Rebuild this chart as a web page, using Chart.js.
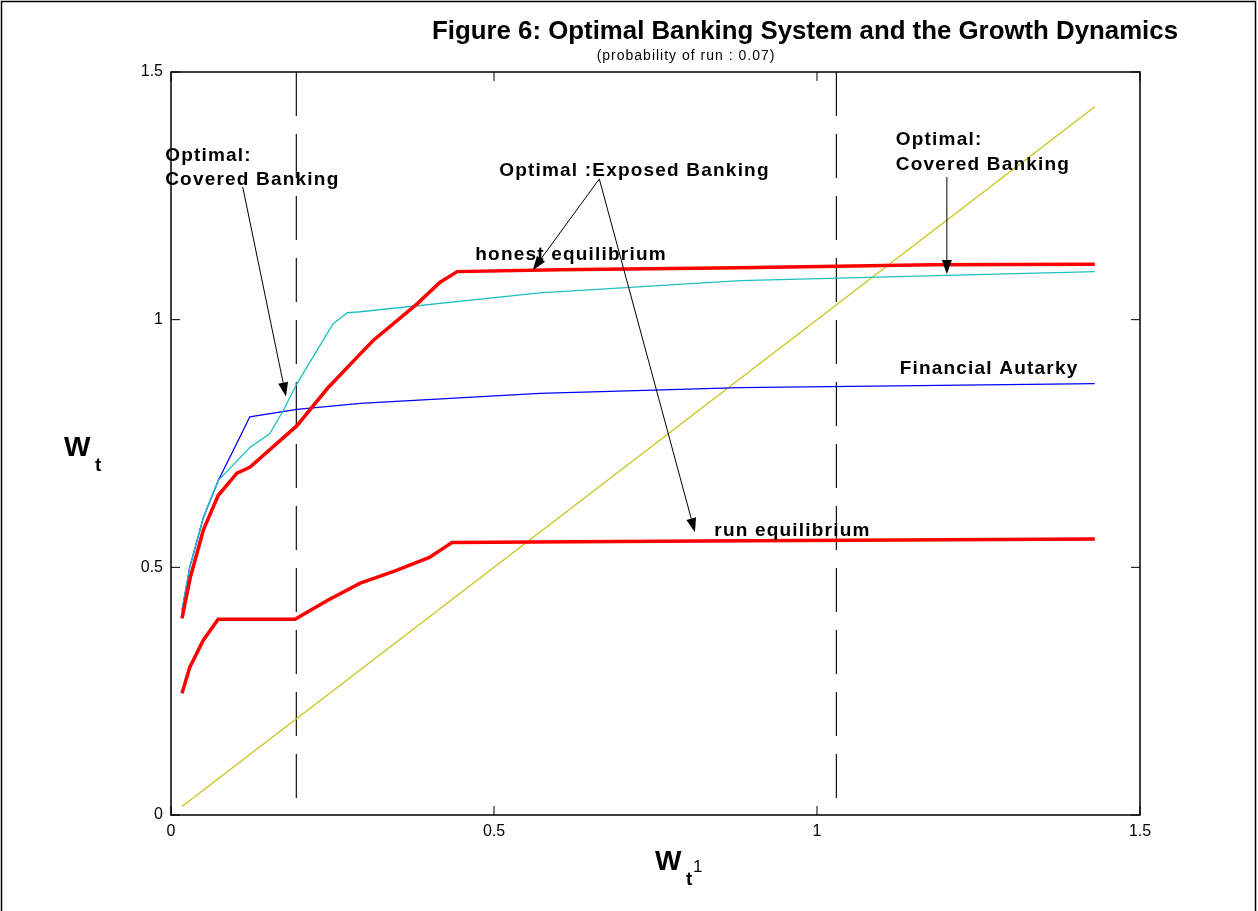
<!DOCTYPE html>
<html>
<head>
<meta charset="utf-8">
<script src="https://cdn.jsdelivr.net/npm/chart.js@4.4.1/dist/chart.umd.min.js"></script>
<style>
  html, body { margin: 0; padding: 0; background: #fff; }
  #wrap { width: 1258px; height: 911px; }
</style>
</head>
<body>
<div id="wrap"><canvas id="chart" width="1258" height="911"></canvas></div>
<script>
// values
const tickValues = [0, 0.5, 1, 1.5];
const tickLabels = ['0', '0.5', '1', '1.5'];

const honestX = [0.017, 0.03, 0.05, 0.073, 0.102, 0.122, 0.195, 0.242, 0.293, 0.313, 0.381, 0.416, 0.443, 0.60, 0.88, 1.18, 1.43];
const honestY = [0.397, 0.48, 0.575, 0.645, 0.69, 0.702, 0.786, 0.861, 0.931, 0.958, 1.032, 1.075, 1.097, 1.101, 1.105, 1.111, 1.112];

const runX = [0.017, 0.029, 0.05, 0.073, 0.192, 0.242, 0.293, 0.345, 0.40, 0.435, 0.824, 1.43];
const runY = [0.246, 0.298, 0.353, 0.395, 0.395, 0.433, 0.468, 0.492, 0.52, 0.55, 0.553, 0.557];

const autarkyX = [0.017, 0.029, 0.05, 0.073, 0.104, 0.122, 0.195, 0.293, 0.571, 0.881, 1.43];
const autarkyY = [0.413, 0.50, 0.60, 0.675, 0.756, 0.804, 0.819, 0.831, 0.851, 0.863, 0.871];

const coveredX = [0.017, 0.029, 0.05, 0.073, 0.122, 0.153, 0.174, 0.195, 0.226, 0.251, 0.273, 0.293, 0.571, 0.881, 1.43];
const coveredY = [0.413, 0.50, 0.60, 0.675, 0.742, 0.77, 0.817, 0.871, 0.938, 0.992, 1.014, 1.016, 1.054, 1.079, 1.097];

const diagonalX = [0.017, 1.43];
const diagonalY = [0.017, 1.43];

const cutoffLeft = 0.194;
const cutoffRight = 1.03;
const cutoffY = [1.5, 0];

const notes = [
  { text: 'Optimal:', x: -0.009, y: 1.321 },
  { text: 'Covered Banking', x: -0.009, y: 1.272 },
  { text: 'Optimal :Exposed Banking', x: 0.508, y: 1.290 },
  { text: 'honest equilibrium', x: 0.471, y: 1.12 },
  { text: 'run equilibrium', x: 0.841, y: 0.563 },
  { text: 'Financial Autarky', x: 1.128, y: 0.89 },
  { text: 'Optimal:', x: 1.122, y: 1.353 },
  { text: 'Covered Banking', x: 1.122, y: 1.302 }
];

const arrows = [
  { from: [0.111, 1.268], to: [0.178, 0.845] },
  { from: [0.663, 1.284], to: [0.560, 1.100] },
  { from: [0.663, 1.284], to: [0.811, 0.571] },
  { from: [1.201, 1.288], to: [1.201, 1.092] }
];

function points(xs, ys) {
  return xs.map((v, i) => ({ x: v, y: ys[i] }));
}

function segment(ctx, x1, y1, x2, y2) {
  ctx.beginPath();
  ctx.moveTo(x1, y1);
  ctx.lineTo(x2, y2);
  ctx.stroke();
}

const figurePlugin = {
  id: 'figure',
  afterDraw(chart) {
    const { ctx, chartArea: a } = chart;
    const sx = chart.scales.x;
    const sy = chart.scales.y;
    ctx.save();

    // figure frame
    ctx.strokeStyle = '#000';
    ctx.lineWidth = 1.5;
    ctx.strokeRect(1.5, 1.5, 1254, 930);

    // axes box + inward ticks on all sides
    ctx.strokeRect(a.left, a.top, a.right - a.left, a.bottom - a.top);
    ctx.lineWidth = 1;
    for (const v of tickValues) {
      const px = sx.getPixelForValue(v);
      const py = sy.getPixelForValue(v);
      segment(ctx, px, a.bottom, px, a.bottom - 9);
      segment(ctx, px, a.top, px, a.top + 9);
      segment(ctx, a.left, py, a.left + 9, py);
      segment(ctx, a.right, py, a.right - 9, py);
    }

    // arrows
    ctx.strokeStyle = '#000';
    ctx.fillStyle = '#000';
    ctx.lineWidth = 1;
    for (const ar of arrows) {
      const x1 = sx.getPixelForValue(ar.from[0]);
      const y1 = sy.getPixelForValue(ar.from[1]);
      const x2 = sx.getPixelForValue(ar.to[0]);
      const y2 = sy.getPixelForValue(ar.to[1]);
      const ang = Math.atan2(y2 - y1, x2 - x1);
      const len = 14, half = 5;
      const bx = x2 - len * Math.cos(ang);
      const by = y2 - len * Math.sin(ang);
      segment(ctx, x1, y1, bx, by);
      ctx.beginPath();
      ctx.moveTo(x2, y2);
      ctx.lineTo(bx + half * Math.sin(ang), by - half * Math.cos(ang));
      ctx.lineTo(bx - half * Math.sin(ang), by + half * Math.cos(ang));
      ctx.closePath();
      ctx.fill();
    }

    // annotation texts
    ctx.font = 'bold 19px "Liberation Sans", Arial, sans-serif';
    ctx.letterSpacing = '1.2px';
    ctx.textAlign = 'left';
    ctx.textBaseline = 'alphabetic';
    for (const n of notes) {
      ctx.fillText(n.text, sx.getPixelForValue(n.x), sy.getPixelForValue(n.y));
    }

    // title
    ctx.letterSpacing = '0px';
    ctx.textAlign = 'center';
    ctx.font = 'bold 26px "Liberation Sans", Arial, sans-serif';
    ctx.fillText('Figure 6: Optimal Banking System and the Growth Dynamics', 805, 39, 746);
    ctx.font = '14px "Liberation Sans", Arial, sans-serif';
    ctx.letterSpacing = '1px';
    ctx.fillText('(probability of run : 0.07)', 686, 60);
    ctx.letterSpacing = '0px';

    // axis labels
    ctx.textAlign = 'left';
    ctx.font = 'bold 28px "Liberation Sans", Arial, sans-serif';
    ctx.fillText('W', 64, 456);
    ctx.font = 'bold 19px "Liberation Sans", Arial, sans-serif';
    ctx.fillText('t', 95, 471);

    ctx.font = 'bold 28px "Liberation Sans", Arial, sans-serif';
    ctx.fillText('W', 655, 870);
    ctx.font = 'bold 19px "Liberation Sans", Arial, sans-serif';
    ctx.fillText('t', 686, 885);
    ctx.font = '17px "Liberation Sans", Arial, sans-serif';
    ctx.fillText('1', 693, 872);

    ctx.restore();
  }
};

const lineStyle = { showLine: true, pointRadius: 0, tension: 0, fill: false };

new Chart(document.getElementById('chart'), {
  type: 'scatter',
  data: {
    datasets: [
      { ...lineStyle, label: 'honest', data: points(honestX, honestY), borderColor: '#ff0000', borderWidth: 3.5 },
      { ...lineStyle, label: 'run', data: points(runX, runY), borderColor: '#ff0000', borderWidth: 3.5 },
      { ...lineStyle, label: 'covered', data: points(coveredX, coveredY), borderColor: '#1fc0c0', borderWidth: 1.3 },
      { ...lineStyle, label: 'autarky', data: points(autarkyX, autarkyY), borderColor: '#0000ff', borderWidth: 1.3 },
      { ...lineStyle, label: 'diagonal', data: points(diagonalX, diagonalY), borderColor: '#c8c417', borderWidth: 1.2 },
      { ...lineStyle, label: 'cut1', data: points([cutoffLeft, cutoffLeft], cutoffY), borderColor: '#111', borderWidth: 1.2, borderDash: [44, 18] },
      { ...lineStyle, label: 'cut2', data: points([cutoffRight, cutoffRight], cutoffY), borderColor: '#111', borderWidth: 1.2, borderDash: [44, 18] }
    ]
  },
  options: {
    responsive: false,
    animation: false,
    devicePixelRatio: 1,
    layout: { padding: { left: 0, top: 72, right: 118, bottom: 0 } },
    plugins: { legend: { display: false }, tooltip: { enabled: false } },
    scales: {
      x: {
        type: 'linear',
        min: 0,
        max: 1.5,
        afterFit(scale) { scale.height = 96; },
        grid: { display: false, drawTicks: false },
        border: { display: false },
        ticks: {
          stepSize: 0.5,
          padding: 7,
          color: '#000',
          font: { family: '"Liberation Sans", Arial, sans-serif', size: 16 },
          callback: (v) => tickLabels[tickValues.indexOf(v)]
        }
      },
      y: {
        type: 'linear',
        min: 0,
        max: 1.5,
        afterFit(scale) { scale.width = 171; },
        grid: { display: false, drawTicks: false },
        border: { display: false },
        ticks: {
          stepSize: 0.5,
          padding: 8,
          color: '#000',
          font: { family: '"Liberation Sans", Arial, sans-serif', size: 16 },
          callback: (v) => tickLabels[tickValues.indexOf(v)]
        }
      }
    }
  },
  plugins: [figurePlugin]
});
</script>
</body>
</html>
